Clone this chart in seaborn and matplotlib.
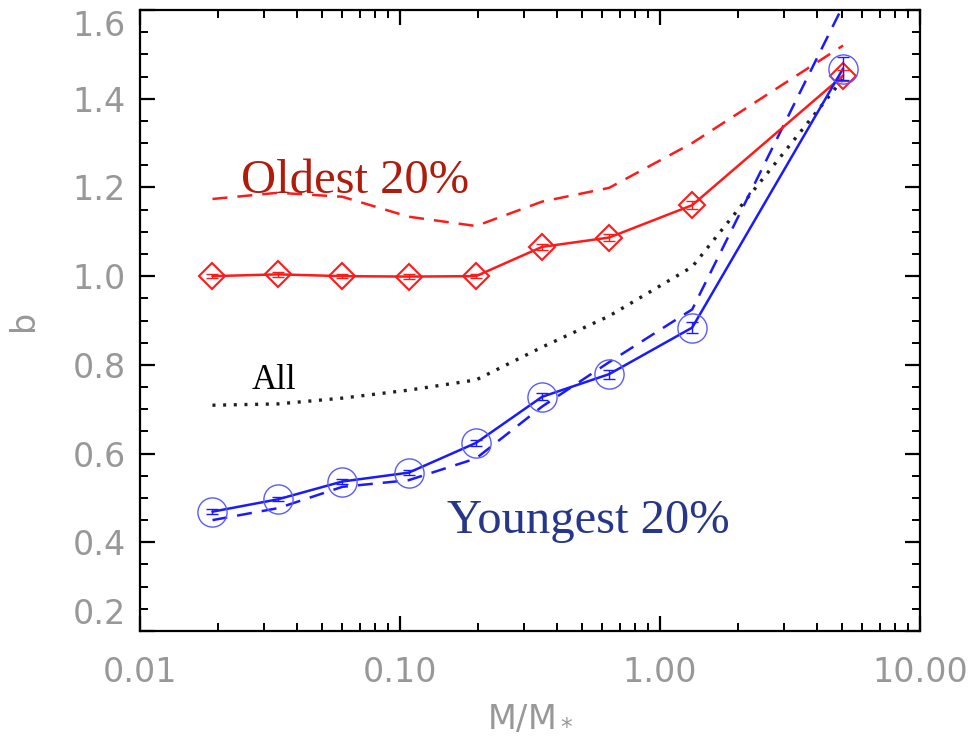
import numpy as np
import pandas as pd
import matplotlib
matplotlib.use("Agg")
import matplotlib.pyplot as plt
import seaborn as sns
from matplotlib.ticker import FixedLocator, MultipleLocator, LogLocator, NullFormatter, FixedFormatter, FormatStrFormatter

# ---- data ----
mass = [0.019, 0.034, 0.060, 0.108, 0.196, 0.352, 0.637, 1.33, 5.06]
oldest_solid = [1.000, 1.004, 1.000, 0.999, 1.000, 1.066, 1.087, 1.160, 1.452]
oldest_err = [0.005, 0.005, 0.005, 0.005, 0.005, 0.007, 0.007, 0.009, 0.013]
oldest_dashed = [1.174, 1.188, 1.179, 1.134, 1.113, 1.168, 1.199, 1.300, 1.520]
all_dotted = [0.709, 0.712, 0.725, 0.743, 0.766, 0.840, 0.910, 1.021, 1.445]
youngest_solid = [0.469, 0.497, 0.537, 0.557, 0.624, 0.728, 0.779, 0.884, 1.468]
youngest_err = [0.005, 0.005, 0.005, 0.005, 0.007, 0.008, 0.010, 0.012, 0.025]
youngest_dashed = [0.450, 0.477, 0.525, 0.540, 0.589, 0.706, 0.806, 0.925, 1.610]

x_ticks = [0.01, 0.1, 1.0, 10.0]
x_ticklabels = ["0.01", "0.10", "1.00", "10.00"]
y_ticks = [0.2, 0.4, 0.6, 0.8, 1.0, 1.2, 1.4, 1.6]

sns.set_theme(style="ticks")
plt.rcParams["font.family"] = ["DejaVu Sans"]

fig = plt.figure(figsize=(9.71, 7.38), dpi=100)
ax = fig.add_axes([140 / 971, 1 - 631 / 738, 780 / 971, 621 / 738])

red = "#ff1a1a"
blue = "#1a1aff"

sns.lineplot(x=mass, y=oldest_dashed, ax=ax, color=red, lw=1.8,
             linestyle=(0, (6, 4)), errorbar=None)
sns.lineplot(x=mass, y=all_dotted, ax=ax, color="#202020", lw=2.4,
             linestyle=(0, (0.9, 2.3)), errorbar=None)
sns.lineplot(x=mass, y=youngest_dashed, ax=ax, color=blue, lw=1.8,
             linestyle=(0, (6, 4)), errorbar=None)
sns.lineplot(x=mass, y=oldest_solid, ax=ax, color=red, lw=1.8, errorbar=None,
             marker="D", ms=13, mfc="none", mec=red, mew=1.5)
sns.lineplot(x=mass, y=youngest_solid, ax=ax, color=blue, lw=1.8, errorbar=None,
             marker="o", ms=21, mfc="none", mec="#5a5aff", mew=1.0)
ax.errorbar(mass, oldest_solid, yerr=oldest_err, fmt="none", ecolor=red,
            elinewidth=1.0, capsize=4, capthick=1.0)
ax.errorbar(mass, youngest_solid, yerr=youngest_err, fmt="none", ecolor=blue,
            elinewidth=1.0, capsize=4, capthick=1.0)

ax.set_xscale("log")
ax.set_xlim(0.01, 10.0)
ax.set_ylim(0.2, 1.6)

ax.xaxis.set_major_locator(FixedLocator(x_ticks))
ax.xaxis.set_major_formatter(FixedFormatter(x_ticklabels))
ax.xaxis.set_minor_locator(LogLocator(base=10, subs=np.arange(2, 10), numticks=20))
ax.xaxis.set_minor_formatter(NullFormatter())
ax.yaxis.set_major_locator(FixedLocator(y_ticks))
ax.yaxis.set_major_formatter(FormatStrFormatter("%.1f"))
ax.yaxis.set_minor_locator(MultipleLocator(0.05))

for s in ax.spines.values():
    s.set_visible(True)
    s.set_linewidth(1.6)
    s.set_color("black")

gray = "#989898"
ax.tick_params(which="both", direction="in", top=True, right=True, color="black")
ax.tick_params(which="major", length=11, width=1.6, labelsize=24, labelcolor=gray)
ax.tick_params(which="minor", length=5.5, width=1.4)
ax.tick_params(axis="x", which="major", pad=18)
ax.tick_params(axis="y", which="major", pad=10)

ax.set_xlabel(r"M/M$_*$", fontsize=24, color=gray)
ax.set_ylabel("b", fontsize=24, color=gray)
ax.xaxis.set_label_coords(0.5, -0.112)
ax.yaxis.set_label_coords(-0.128, 0.5)

fig.canvas.draw()
ylabels = ax.get_yticklabels()
ylabels[0].set_va("bottom")
ylabels[-1].set_va("top")

serif = ["Liberation Serif", "DejaVu Serif"]
ax.text(0.02446, 1.187, "Oldest 20%", color="#b01c0c", fontsize=35,
        family=serif, ha="left", va="baseline")
ax.text(0.1517, 0.421, "Youngest 20%", color="#26378a", fontsize=35,
        family=serif, ha="left", va="baseline")
ax.text(0.02698, 0.7455, "All", color="black", fontsize=25,
        family=serif, ha="left", va="baseline")

fig.savefig("out.png", dpi=100)
